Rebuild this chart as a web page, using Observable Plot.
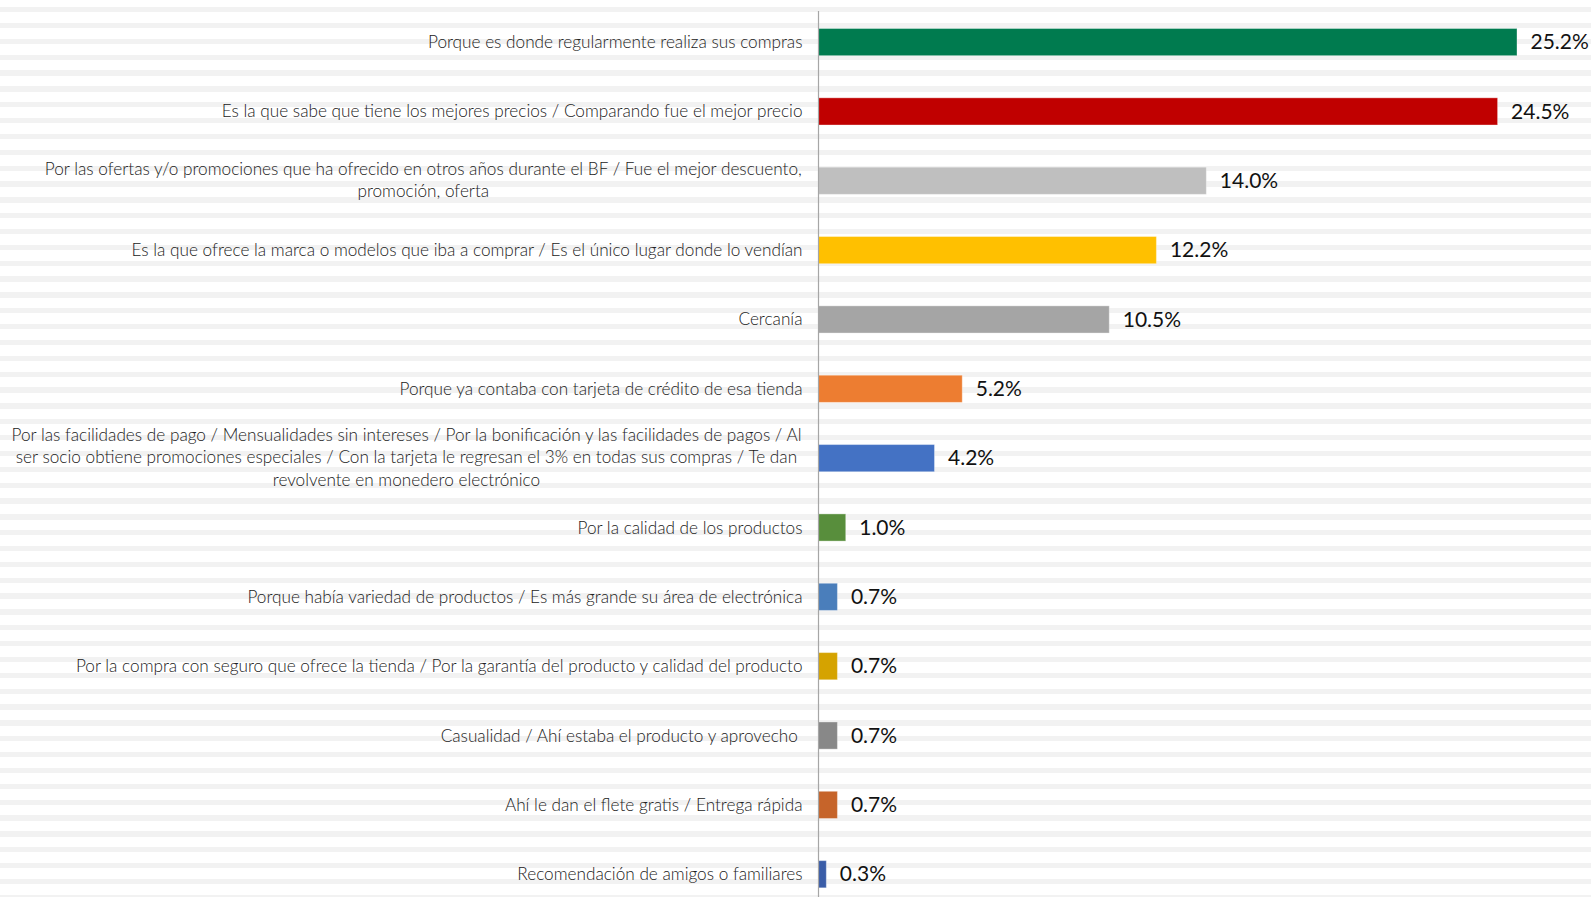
<!DOCTYPE html>
<html>
<head>
<meta charset="utf-8">
<script src="https://cdn.jsdelivr.net/npm/d3@7"></script>
<script src="https://cdn.jsdelivr.net/npm/@observablehq/plot@0.6"></script>
<style>
  html, body { margin: 0; padding: 0; background: #fff; overflow: hidden; }
  #wrap {
    width: 1591px; height: 897px; position: relative;
    background-image: repeating-linear-gradient(to bottom, transparent 0px, transparent 7px, #f2f2f2 7px, #f2f2f2 12.3px, transparent 12.3px, transparent 15.85px);
  }
  #wrap svg { position: absolute; left: 0; top: 0; background: transparent; }
</style>
</head>
<body>
<div id="wrap"></div>
<script>
const categories = [
  "Porque es donde regularmente realiza sus compras",
  "Es la que sabe que tiene los mejores precios / Comparando fue el mejor precio",
  "Por las ofertas y/o promociones que ha ofrecido en otros años durante el BF / Fue el mejor descuento,\npromoción, oferta",
  "Es la que ofrece la marca o modelos que iba a comprar / Es el único lugar donde lo vendían",
  "Cercanía",
  "Porque ya contaba con tarjeta de crédito de esa tienda",
  "Por las facilidades de pago / Mensualidades sin intereses / Por la bonificación y las facilidades de pagos / Al\nser socio obtiene promociones especiales / Con la tarjeta le regresan el 3% en todas sus compras / Te dan\nrevolvente en monedero electrónico",
  "Por la calidad de los productos",
  "Porque había variedad de productos / Es más grande su área de electrónica",
  "Por la compra con seguro que ofrece la tienda / Por la garantía del producto y calidad del producto",
  "Casualidad / Ahí estaba el producto y aprovecho ",
  "Ahí le dan el flete gratis / Entrega rápida",
  "Recomendación de amigos o familiares"
];
const values = [25.2, 24.5, 14.0, 12.2, 10.5, 5.2, 4.2, 1.0, 0.7, 0.7, 0.7, 0.7, 0.3];
const valueLabels = ["25.2%", "24.5%", "14.0%", "12.2%", "10.5%", "5.2%", "4.2%", "1.0%", "0.7%", "0.7%", "0.7%", "0.7%", "0.3%"];
const colors = ["#007B4F", "#C00000", "#BFBFBF", "#FFC000", "#A5A5A5", "#ED7D31", "#4472C4",
                "#588E3C", "#4A7EBB", "#D5A300", "#888888", "#C6642A", "#3A5DA8"];

const data = categories.map((c, i) => ({cat: c, value: values[i], label: valueLabels[i], color: colors[i]}));

const catSize = 17.2;
const catWeight = 300;
const canvas = document.createElement("canvas");
const ctx = canvas.getContext("2d");
ctx.font = `${catWeight} ${catSize}px Lato`;
const maxLineWidth = s => Math.max(...s.split("\n").map(l => ctx.measureText(l).width));

const singleLine = data.filter(d => !d.cat.includes("\n"));
const multiLine = data.filter(d => d.cat.includes("\n"));
const labelGap = 16;

const marks = [
  Plot.barX(data, {x: "value", y: "cat", fill: "color", stroke: "#ffffff", strokeOpacity: 0.35, strokeWidth: 1}),
  Plot.ruleX([0], {stroke: "#a6a6a6", strokeWidth: 1.2}),
  Plot.text(data, {x: "value", y: "cat", text: "label", textAnchor: "start", dx: 13,
    fontSize: 21, fontFamily: "Lato", fill: "#111"}),
  Plot.text(singleLine, {x: 0, y: "cat", text: "cat", textAnchor: "end", dx: -labelGap,
    fontSize: catSize, fontWeight: catWeight, fontFamily: "Lato", fill: "#222"}),
  ...multiLine.map(d => Plot.text([d], {x: 0, y: "cat", text: "cat", textAnchor: "middle", lineAnchor: "middle",
    lineHeight: 1.3, dy: -2.5, dx: -labelGap - maxLineWidth(d.cat) / 2, fontSize: catSize, fontWeight: catWeight,
    fontFamily: "Lato", fill: "#222"}))
];

const chart = Plot.plot({
  width: 1591,
  height: 897,
  marginLeft: 818,
  marginRight: 74,
  marginTop: 11,
  marginBottom: 0,
  style: {background: "transparent"},
  x: {domain: [0, 25.2], axis: null},
  y: {domain: categories, range: [7.4, 908.9], paddingInner: 0.608, paddingOuter: 0.304, round: false, axis: null},
  marks
});
document.getElementById("wrap").appendChild(chart);
</script>
</body>
</html>
